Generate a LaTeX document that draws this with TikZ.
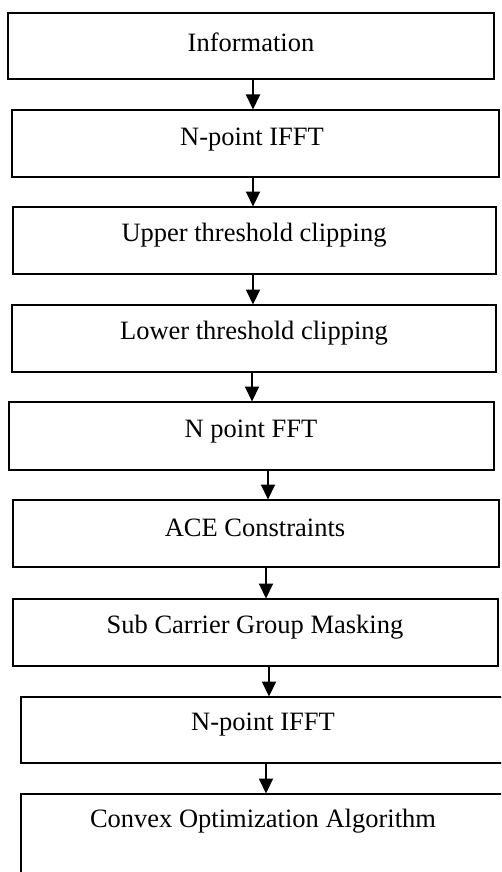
\documentclass[tikz,border=0pt]{standalone}
\usepackage{fontspec}
\setmainfont{Liberation Serif}
\usetikzlibrary{arrows.meta}
\begin{document}
\begin{tikzpicture}[x=1pt,y=-1pt,
  box/.style={draw=black, line width=1.4pt, fill=white, rectangle, inner sep=0pt, outer sep=0pt},
  lbl/.style={font=\fontsize{26.5}{30}\selectfont, inner sep=0pt, anchor=center},
  arr/.style={line width=2pt, -{Triangle[width=14pt,length=15pt]}, shorten >=0.5pt}]
\useasboundingbox (0,0) rectangle (501,872);
\clip (0,0) rectangle (501,872);
\fill[white] (0,0) rectangle (501,872);
% boxes (centre x, centre y; width, height)
\node[box, minimum width=486, minimum height=66] (b1) at (251,46) {};
\node[box, minimum width=487, minimum height=67] (b2) at (255.5,143.5) {};
\node[box, minimum width=483, minimum height=67] (b3) at (254.5,240.5) {};
\node[box, minimum width=484, minimum height=67] (b4) at (254,338.5) {};
\node[box, minimum width=485, minimum height=68] (b5) at (251.5,436) {};
\node[box, minimum width=486, minimum height=67] (b6) at (256,533.5) {};
\node[box, minimum width=485, minimum height=67] (b7) at (255.5,632.5) {};
\node[box, minimum width=491, minimum height=66] (b8) at (266.5,730) {};
\node[box, minimum width=491, minimum height=106] (b9) at (266.5,847) {};
% labels
\node[lbl] (t1) at (251,42) {Information};
\node[lbl] (t2) at (252,140) {N-point IFFT};
\node[lbl] (t3) at (254,235) {Upper threshold clipping};
\node[lbl] (t4) at (254,333) {Lower threshold clipping};
\node[lbl] (t5) at (251,432) {N point FFT};
\node[lbl] (t6) at (255,528) {ACE Constraints};
\node[lbl] (t7) at (255,627) {Sub Carrier Group Masking};
\node[lbl] (t8) at (263,725) {N-point IFFT};
\node[lbl] (t9) at (263,821) {Convex Optimization Algorithm};
% connectors
\draw[arr] (253,0 |- b1.south) -- (253,0 |- b2.north);
\draw[arr] (253,0 |- b2.south) -- (253,0 |- b3.north);
\draw[arr] (253,0 |- b3.south) -- (253,0 |- b4.north);
\draw[arr] (252,0 |- b4.south) -- (252,0 |- b5.north);
\draw[arr] (268,0 |- b5.south) -- (268,0 |- b6.north);
\draw[arr] (266,0 |- b6.south) -- (266,0 |- b7.north);
\draw[arr] (269,0 |- b7.south) -- (269,0 |- b8.north);
\draw[arr] (266,0 |- b8.south) -- (266,0 |- b9.north);
\end{tikzpicture}
\end{document}
